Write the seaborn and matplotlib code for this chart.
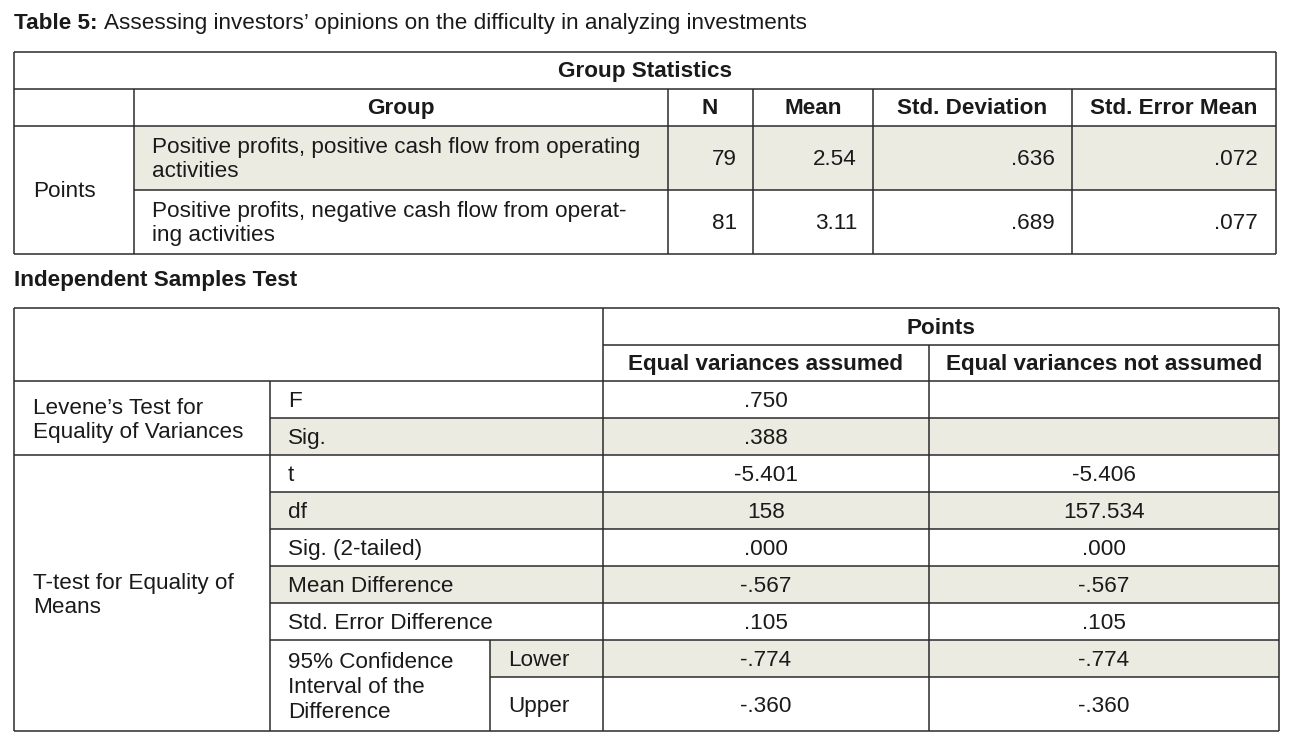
import matplotlib
matplotlib.use("Agg")
import matplotlib.pyplot as plt
import seaborn as sns
from matplotlib.patches import Rectangle

sns.set_theme(style="white")
plt.rcParams['font.family'] = ['Liberation Sans', 'DejaVu Sans']

# ---- data ----
groups = ["Positive profits, positive cash flow from operating\nactivities",
          "Positive profits, negative cash flow from operat-\ning activities"]
n_vals = ["79", "81"]
mean_vals = ["2.54", "3.11"]
std_vals = [".636", ".689"]
sem_vals = [".072", ".077"]

stat_labels = ["F", "Sig.", "t", "df", "Sig. (2-tailed)", "Mean Difference",
               "Std. Error Difference", "Lower", "Upper"]
eq_assumed = [".750", ".388", "-5.401", "158", ".000", "-.567", ".105", "-.774", "-.360"]
eq_not_assumed = ["", "", "-5.406", "157.534", ".000", "-.567", ".105", "-.774", "-.360"]

SHADE = "#ecebe1"
LINE = "#2b2b2b"
TXT = "#1a1a1a"
FS = 16.2
DY = 1.5  # small downward nudge for text

fig = plt.figure(figsize=(12.89, 7.42), dpi=100)
ax = fig.add_axes([0, 0, 1, 1])
ax.set_xlim(0, 1289)
ax.set_ylim(742, 0)
ax.axis("off")

def hl(y, x0, x1):
    ax.plot([x0, x1], [y, y], color=LINE, lw=1.1, solid_capstyle="butt")

def vl(x, y0, y1):
    ax.plot([x, x], [y0, y1], color=LINE, lw=1.1, solid_capstyle="butt")

def shade(x0, y0, x1, y1):
    ax.add_patch(Rectangle((x0, y0), x1 - x0, y1 - y0, facecolor=SHADE, edgecolor="none", zorder=0))

def txt(x, y, s, **kw):
    kw.setdefault("ha", "left")
    ax.text(x, y + DY, s, fontsize=FS, va="center", color=TXT, **kw)

# title
txt(14, 22, "Table 5:", fontweight="bold")
txt(104, 22, "Assessing investors\u2019 opinions on the difficulty in analyzing investments")

# ---- Group Statistics table ----
L, R = 14, 1276
rows1 = [52, 89, 126, 190, 254]
cols1 = [134, 668, 753, 873, 1072]
shade(134, 126, R, 190)
hl(rows1[0], L, R)
hl(rows1[1], L, R)
hl(rows1[2], L, R)
hl(rows1[3], 134, R)
hl(rows1[4], L, R)
vl(L, 52, 254)
vl(R, 52, 254)
for x in cols1:
    vl(x, 89, 254)

txt((L + R) / 2, 70, "Group Statistics", fontweight="bold", ha="center")
txt(401, 107, "Group", fontweight="bold", ha="center")
txt(710, 107, "N", fontweight="bold", ha="center")
txt(813, 107, "Mean", fontweight="bold", ha="center")
txt(972, 107, "Std. Deviation", fontweight="bold", ha="center")
txt(1174, 107, "Std. Error Mean", fontweight="bold", ha="center")
txt(33, 190, "Points")

for i in range(len(groups)):
    yc = (rows1[2 + i] + rows1[3 + i]) / 2
    txt(152, yc, groups[i], linespacing=1.2)
    txt(737, yc, n_vals[i], ha="right")
    txt(857, yc, mean_vals[i], ha="right")
    txt(1055, yc, std_vals[i], ha="right")
    txt(1258, yc, sem_vals[i], ha="right")

# ---- Independent Samples Test table ----
txt(14, 279, "Independent Samples Test", fontweight="bold")

L2, R2 = 14, 1279
c1, c2, c3, c4 = 270, 490, 603, 929
ys = [381, 418, 455, 492, 529, 566, 603, 640, 677, 731]
# shaded rows: Sig., df, Mean Difference, Lower
shade(c1, ys[1], R2, ys[2])
shade(c1, ys[3], R2, ys[4])
shade(c1, ys[5], R2, ys[6])
shade(c2, ys[7], R2, ys[8])

hl(308, L2, R2)
hl(345, c3, R2)
hl(ys[0], L2, R2)
hl(ys[1], c1, R2)
hl(ys[2], L2, R2)
for y in ys[3:8]:
    hl(y, c1, R2)
hl(ys[8], c2, R2)
hl(ys[9], L2, R2)
vl(L2, 308, 731)
vl(R2, 308, 731)
vl(c3, 308, 731)
vl(c4, 345, 731)
vl(c1, 381, 731)
vl(c2, 640, 731)

txt((c3 + R2) / 2, 327, "Points", fontweight="bold", ha="center")
txt((c3 + c4) / 2, 363, "Equal variances assumed", fontweight="bold", ha="center")
txt((c4 + R2) / 2, 363, "Equal variances not assumed", fontweight="bold", ha="center")

txt(33, 419, "Levene\u2019s Test for\nEquality of Variances", linespacing=1.22)
txt(33, 594, "T-test for Equality of\nMeans", linespacing=1.22)
txt(288, 686, "95% Confidence\nInterval of the\nDifference", linespacing=1.22)

label_y = [400, 437, 474, 511, 548, 585, 622, 659, 705]
for i, lab in enumerate(stat_labels):
    lx = 508 if lab in ("Lower", "Upper") else 288
    txt(lx, label_y[i], lab)
    txt(766, label_y[i], eq_assumed[i], ha="center")
    txt(1104, label_y[i], eq_not_assumed[i], ha="center")

plt.savefig("out.png", dpi=100)
